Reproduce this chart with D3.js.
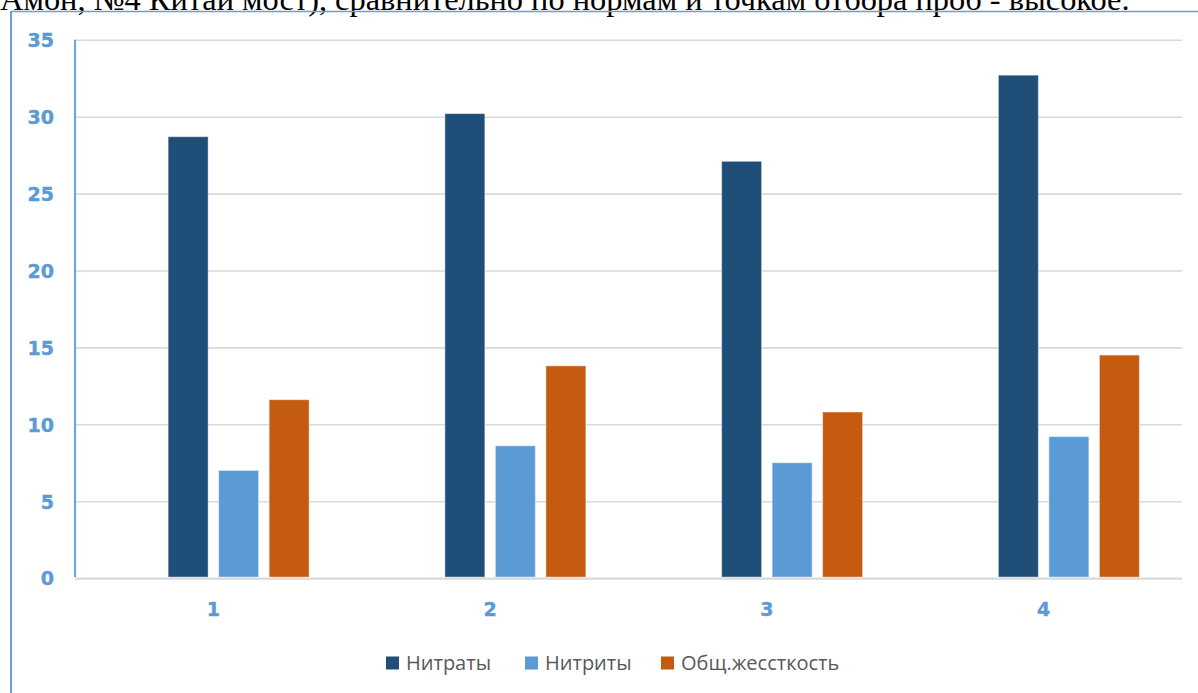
<!DOCTYPE html>
<html>
<head>
<meta charset="utf-8">
<script src="https://cdn.jsdelivr.net/npm/d3@7/dist/d3.min.js"></script>
<style>
  html, body { margin: 0; padding: 0; background: #fff; }
  svg { display: block; }
</style>
</head>
<body>
<svg id="chart" width="1198" height="693"></svg>
<script>
// Sampling points and measured values
const categories = ["1", "2", "3", "4"];
const seriesNames = ["Нитраты", "Нитриты", "Общ.жессткость"];
const nitrates = [28.7, 30.2, 27.1, 32.7];
const nitrites = [7.0, 8.6, 7.5, 9.2];
const hardness = [11.6, 13.8, 10.8, 14.5];
const yTicks = [0, 5, 10, 15, 20, 25, 30, 35];
const colors = ["#1f4e79", "#5b9bd5", "#c55a11"];
const caption = "Амон, №4 Китай мост), сравнительно по нормам и точкам отбора проб - высокое.";

const seriesValues = [nitrates, nitrites, hardness];

const svg = d3.select("#chart");

// Paragraph line above the chart frame (runs off the top edge of the page)
svg.append("text")
  .attr("x", 0)
  .attr("y", 9.5)
  .attr("font-family", "Liberation Serif, Times New Roman, serif")
  .attr("font-size", 32.4)
  .attr("fill", "#000")
  .text(caption);

// Chart frame (top and left edges visible)
svg.append("line")
  .attr("x1", 11).attr("x2", 1198).attr("y1", 11.5).attr("y2", 11.5)
  .attr("stroke", "#6a9fd4").attr("stroke-width", 1.5);
svg.append("line")
  .attr("x1", 11).attr("x2", 11).attr("y1", 11).attr("y2", 693)
  .attr("stroke", "#6a9fd4").attr("stroke-width", 2);

const plot = { left: 75, right: 1182, top: 39.8, bottom: 578.1 };

const y = d3.scaleLinear().domain([0, 35]).range([plot.bottom, plot.top]);
const x = d3.scaleBand().domain(categories).range([plot.left, plot.right]).padding(0);
// four slots per category; the first slot stays empty
const xs = d3.scaleBand().domain([0, 1, 2, 3]).range([0, x.bandwidth()])
  .paddingInner(0.208).paddingOuter(0.844);

const labelFont = "DejaVu Sans, Verdana, sans-serif";
const axisBlue = "#5b9bd5";

// Horizontal gridlines with value labels
const yAxis = d3.axisLeft(y).tickValues(yTicks).tickSize(-(plot.right - plot.left)).tickFormat(d3.format("d"));
const gy = svg.append("g").attr("transform", `translate(${plot.left},0)`).call(yAxis);
gy.select(".domain").remove();
gy.selectAll(".tick line")
  .attr("stroke", "#d9d9d9")
  .attr("stroke-width", d => d === 0 ? 2.2 : 1.6);
gy.selectAll(".tick text")
  .attr("x", -21)
  .attr("dy", "0.36em")
  .attr("font-family", labelFont)
  .attr("font-weight", "bold")
  .attr("font-size", 19)
  .attr("fill", axisBlue)
  .attr("stroke", axisBlue)
  .attr("stroke-width", 0.4);

// Vertical value axis line
svg.append("line")
  .attr("x1", plot.left).attr("x2", plot.left)
  .attr("y1", plot.top).attr("y2", plot.bottom - 1)
  .attr("stroke", axisBlue).attr("stroke-width", 1.8);

// Bars
seriesValues.forEach((vals, si) => {
  svg.append("g").selectAll("rect")
    .data(vals)
    .join("rect")
    .attr("x", (d, i) => x(categories[i]) + xs(si + 1))
    .attr("width", xs.bandwidth())
    .attr("y", d => y(d))
    .attr("height", d => y(0) - y(d) - 1)
    .attr("fill", colors[si])
    .attr("stroke", "rgba(255,255,255,0.45)")
    .attr("stroke-width", 1);
});

// Category labels
const xAxis = d3.axisBottom(x).tickSize(0).tickPadding(0);
const gx = svg.append("g").attr("transform", `translate(0,${plot.bottom})`).call(xAxis);
gx.select(".domain").remove();
gx.selectAll(".tick text")
  .attr("y", 31)
  .attr("dy", "0.36em")
  .attr("font-family", labelFont)
  .attr("font-weight", "bold")
  .attr("font-size", 19)
  .attr("fill", axisBlue)
  .attr("stroke", axisBlue)
  .attr("stroke-width", 0.4);

// Legend
const legendItems = [
  { name: seriesNames[0], color: colors[0], x: 386 },
  { name: seriesNames[1], color: colors[1], x: 525 },
  { name: seriesNames[2], color: colors[2], x: 661 }
];
const lg = svg.append("g");
const item = lg.selectAll("g").data(legendItems).join("g")
  .attr("transform", d => `translate(${d.x},656.5)`);
item.append("rect").attr("width", 13).attr("height", 13).attr("fill", d => d.color);
item.append("text")
  .attr("x", 20).attr("y", 6.5).attr("dy", "0.36em")
  .attr("font-family", "Open Sans, Noto Sans, sans-serif")
  .attr("font-size", 20)
  .attr("fill", "#595959")
  .text(d => d.name);
</script>
</body>
</html>
